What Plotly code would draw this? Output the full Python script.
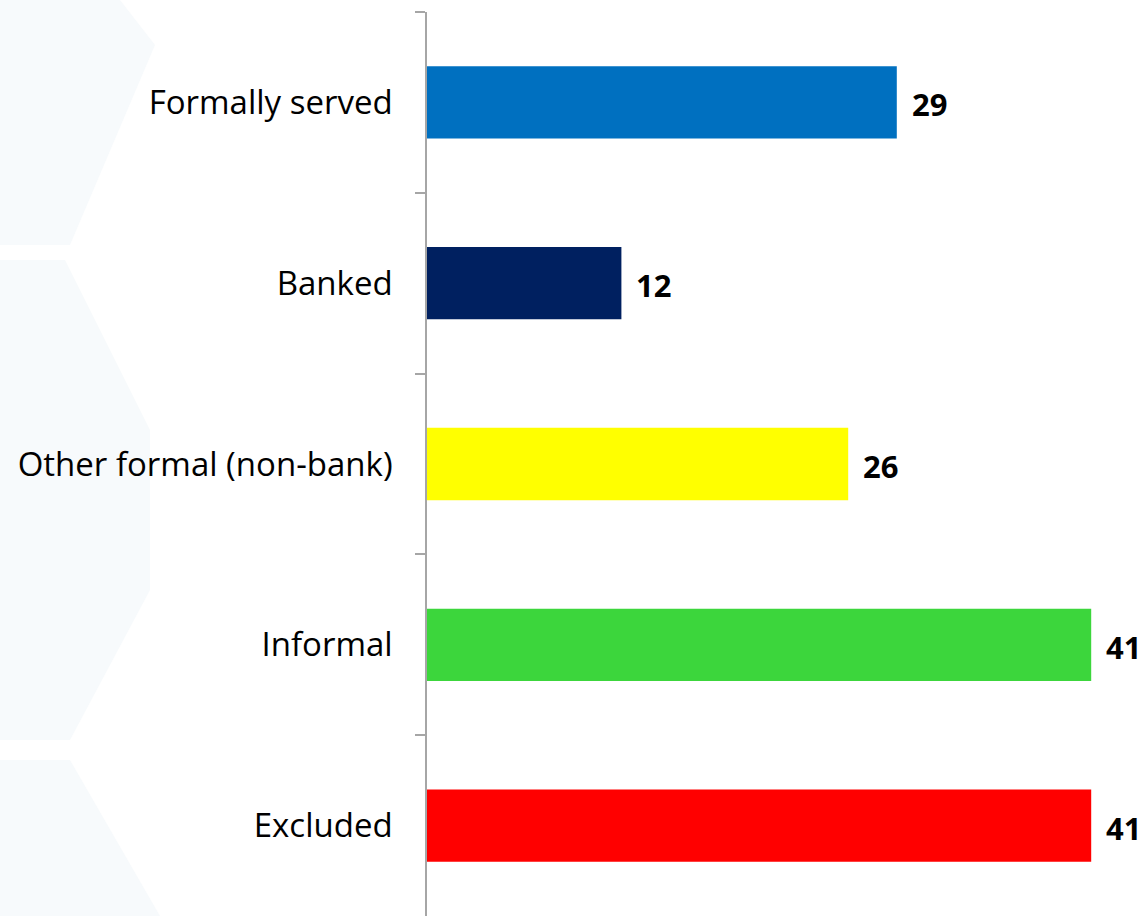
import plotly.graph_objects as go

categories = ["Formally served", "Banked", "Other formal (non-bank)", "Informal", "Excluded"]
values = [29, 12, 26, 41, 41]
colors = ["#0070C0", "#002060", "#FFFF00", "#3CD63C", "#FF0000"]

W, H = 1148, 916
ml, mr, mt, mb = 427, 0, 12, 0
pw, ph = W - ml - mr, H - mt - mb

fig = go.Figure()
fig.add_trace(go.Bar(
    y=categories, x=values, orientation="h",
    marker=dict(color=colors, line=dict(width=0)),
    width=0.40, hoverinfo="skip",
))

for c, v in zip(categories, values):
    fig.add_annotation(x=v, y=c, text=f"<b>{v}</b>", showarrow=False,
                       xanchor="left", yanchor="middle", xshift=13, yshift=-2,
                       font=dict(family="Open Sans, sans-serif", size=31, color="#000000"))

def px_path(pts):
    s = ""
    for i, (x, y) in enumerate(pts):
        xp = (x - ml) / pw
        yp = 1 - (y - mt) / ph
        s += ("M" if i == 0 else "L") + f"{xp:.5f},{yp:.5f} "
    return s + "Z"

polys = [
    [(0, 0), (120, 0), (155, 45), (70, 245), (0, 245)],
    [(0, 260), (65, 260), (150, 430), (150, 590), (70, 740), (0, 740)],
    [(0, 760), (70, 760), (160, 916), (0, 916)],
]
for pts in polys:
    fig.add_shape(type="path", path=px_path(pts), xref="paper", yref="paper",
                  fillcolor="#F7FAFC", line=dict(width=0), layer="below")

fig.update_layout(
    width=W, height=H,
    margin=dict(l=ml, r=mr, t=mt, b=mb, pad=0),
    paper_bgcolor="#FFFFFF", plot_bgcolor="rgba(0,0,0,0)",
    showlegend=False,
)
fig.update_xaxes(range=[0, 721 / 16.2], visible=False, showgrid=False, zeroline=False)
fig.update_yaxes(
    categoryorder="array", categoryarray=categories, autorange="reversed",
    showline=True, linecolor="#A6A6A6", linewidth=1.5,
    ticks="outside", ticklen=10, tickcolor="#A6A6A6", tickwidth=1.5,
    tickson="boundaries", showgrid=False, zeroline=False,
    tickfont=dict(family="Open Sans, sans-serif", size=33, color="#000000"),
    ticklabelstandoff=26,
)

fig.write_html("out.html")
